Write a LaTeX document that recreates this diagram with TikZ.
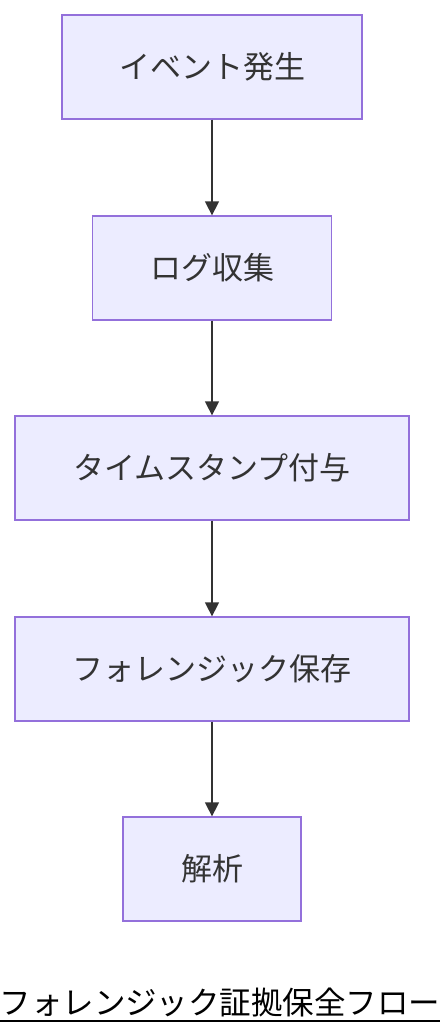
\documentclass[tikz,border=0pt]{standalone}
\usepackage{fontspec}
\newfontfamily\cjk{Noto Sans CJK JP}
\usetikzlibrary{arrows.meta}
\definecolor{boxfill}{HTML}{ECECFF}
\definecolor{boxline}{HTML}{9370DB}
\definecolor{ink}{HTML}{333333}
\begin{document}
\begin{tikzpicture}[x=1pt,y=-1pt,
 flowbox/.style={draw=boxline,fill=boxfill,line width=1.3pt,minimum height=104pt,inner sep=0pt,text=ink,font=\cjk\fontsize{31}{36}\selectfont},
 flowarrow/.style={draw=ink,line width=1.5pt,-{Triangle[length=14pt,width=14pt]}}]
 \useasboundingbox (0,0) rectangle (440,1036);
 \node[flowbox,minimum width=300pt] (event) at (212,67) {イベント発生};
 \node[flowbox,minimum width=239pt] (logs) at (212,268) {ログ収集};
 \node[flowbox,minimum width=394pt] (stamp) at (212,468) {タイムスタンプ付与};
 \node[flowbox,minimum width=394pt] (keep) at (212,669) {フォレンジック保存};
 \node[flowbox,minimum width=178pt] (study) at (212,869) {解析};
 \draw[flowarrow] (event) -- (logs);
 \draw[flowarrow] (logs) -- (stamp);
 \draw[flowarrow] (stamp) -- (keep);
 \draw[flowarrow] (keep) -- (study);
 \node[font=\cjk\fontsize{31.5}{36}\selectfont,inner sep=0pt,anchor=base] (title) at (220,1014) {フォレンジック証拠保全フロー};
 \draw[line width=1.5pt] (0,1021) -- (440,1021);
\end{tikzpicture}
\end{document}
